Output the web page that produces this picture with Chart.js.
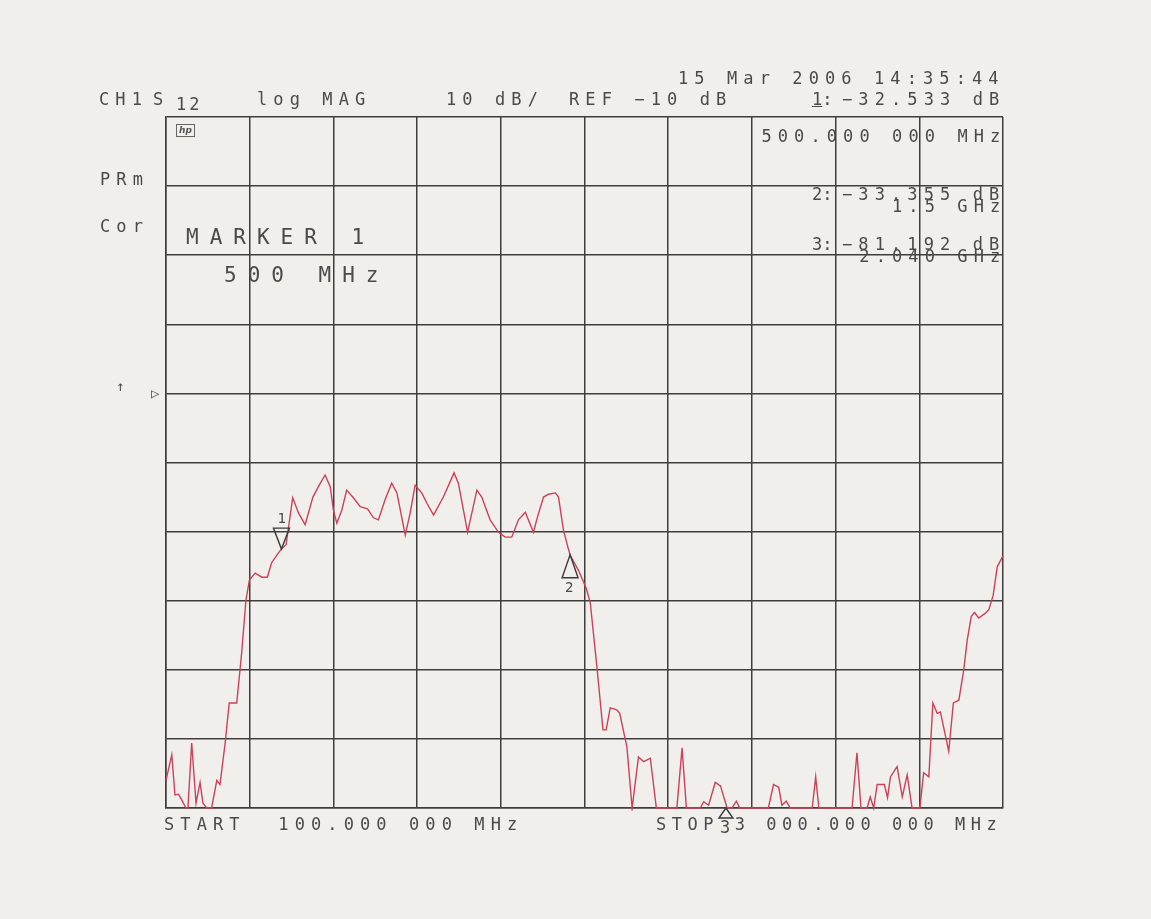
<!DOCTYPE html>
<html>
<head>
<meta charset="utf-8">
<script src="https://cdn.jsdelivr.net/npm/chart.js@4"></script>
<style>
  html, body { margin: 0; padding: 0; background: #f1efec; }
  #wrap { position: relative; width: 1151px; height: 919px; overflow: hidden; }
  canvas { position: absolute; left: 0; top: 0; }
  .t {
    position: absolute;
    font-family: "DejaVu Sans Mono", monospace;
    font-size: 17px;
    line-height: 17px;
    letter-spacing: 6.1px;
    color: #4a4a4a;
    white-space: pre;
  }
  .big { font-size: 21px; line-height: 21px; letter-spacing: 11px; }
  .small { font-size: 14px; line-height: 14px; letter-spacing: 0; }
  .hp {
    position: absolute; left: 176px; top: 124px; width: 17px; height: 11px;
    border: 1px solid #666; font: italic bold 9px "DejaVu Sans", sans-serif;
    line-height: 11px; text-align: center; color: #555;
  }
</style>
</head>
<body>
<div id="wrap">
  <canvas id="chart" width="1151" height="919"></canvas>

  <div class="t" style="left:678px; top:70px;">15 Mar 2006 14:35:44</div>
  <div class="t" style="left:99px; top:91px;">CH1</div>
  <div class="t" style="left:153px; top:91px;">S</div>
  <div class="t" style="left:176px; top:96px; letter-spacing:3px;">12</div>
  <div class="t" style="left:257px; top:91px;">log MAG</div>
  <div class="t" style="left:446px; top:91px;">10 dB/</div>
  <div class="t" style="left:569px; top:91px;">REF −10 dB</div>

  <div class="t" style="left:100px; top:171px;">PRm</div>
  <div class="t" style="left:100px; top:218px;">Cor</div>
  <div class="hp">hp</div>

  <div class="t big" style="left:186px; top:227px;">MARKER 1</div>
  <div class="t big" style="left:224px; top:265px;">500 MHz</div>

  <div class="t small" style="left:116px; top:379px;">↑</div>
  <div class="t small" style="left:151px; top:386px;">▷</div>

  <div class="t" style="left:164px; top:816px;">START  100.000 000 MHz</div>
  <div class="t" style="left:656px; top:816px; letter-spacing:5.5px;">STOP 3 000.000 000 MHz</div>

  <div id="readout"></div>
  <div id="mlabels"></div>
</div>

<script>
// sweep settings
const startMHz = 100;
const stopMHz = 3000;
const topDb = 30;      // REF -10 dB on 4th division, 10 dB/div
const bottomDb = -70;

// S12 trace (MHz, dB); -70 = clipped at bottom of screen
const freqMHz = [100, 120, 131, 143, 154, 169, 176, 189, 204, 218, 228, 241, 258, 276, 287, 305, 319, 345, 362, 377,
  389, 409, 432, 451, 466, 484, 500, 516, 539, 559, 582, 609, 628, 651, 669, 680, 692, 709, 726, 747,
  773, 798, 819, 836, 859, 882, 900, 929, 946, 963, 986, 1004, 1027, 1061, 1098, 1113, 1145, 1177, 1194, 1223,
  1252, 1275, 1298, 1321, 1345, 1373, 1387, 1408, 1425, 1449, 1460, 1477, 1489, 1500, 1529, 1556, 1570, 1593, 1614, 1625,
  1639, 1662, 1672, 1697, 1715, 1737, 1755, 1778, 1799, 1870, 1888, 1903, 1951, 1963, 1980, 2003, 2021, 2044, 2061, 2076,
  2088, 2187, 2205, 2223, 2234, 2249, 2263, 2339, 2351, 2362, 2477, 2494, 2508, 2529, 2540, 2552, 2564, 2589, 2600, 2610,
  2633, 2651, 2668, 2685, 2712, 2725, 2743, 2757, 2772, 2783, 2812, 2828, 2847, 2864, 2876, 2890, 2901, 2916, 2939, 2951,
  2966, 2980, 3000];
const s12Db = [-66, -62.3, -68.1, -68, -68.8, -70, -70, -60.6, -69.3, -66.3, -69.3, -70, -70, -66, -66.6, -60.6, -54.8, -54.8, -47.6, -39.9,
  -37, -36, -36.6, -36.6, -34.5, -33.4, -32.5, -31.9, -25.1, -27.3, -29, -25, -23.5, -21.8, -23.5, -26.9, -28.8, -26.9, -24, -25,
  -26.4, -26.7, -28, -28.3, -25.4, -23, -24.4, -30.5, -27.3, -23.3, -24.4, -25.9, -27.6, -25, -21.5, -23, -30.1, -24, -25, -28.3,
  -30.1, -30.8, -30.8, -28.3, -27.2, -30.1, -27.9, -25, -24.6, -24.4, -25, -29.8, -31.7, -33.4, -35.6, -38.2, -40.3, -49.6, -58.7, -58.7,
  -55.5, -55.8, -56.3, -61.2, -70, -62.6, -63.3, -62.8, -70, -70, -61.3, -70, -70, -69.1, -69.6, -66.3, -66.8, -70, -70, -69,
  -70, -70, -66.6, -67, -69.6, -69, -70, -70, -65.5, -70, -70, -62, -70, -70, -68.4, -70, -66.6, -66.6, -68.5, -65.5,
  -64, -68.4, -65.2, -70, -70, -64.9, -65.5, -54.8, -56.3, -56.1, -61.8, -54.8, -54.4, -50, -45.7, -42.3, -41.7, -42.5, -41.8, -41.3,
  -39.2, -35.1, -33.5];

// markers
const markerIds = ['1', '2', '3'];
const markerMHz = [500, 1500, 2040];
const markerDb = [-32.533, -33.355, -81.192];
const markerFreqText = ['500.000 000 MHz', '1.5 GHz', '2.040 GHz'];

const gridColor = '#3e3e3e';
const xGrid = [];
for (let i = 0; i <= 10; i++) xGrid.push(startMHz + i * (stopMHz - startMHz) / 10);

// marker readout on the right
function buildReadout() {
  const box = document.getElementById('readout');
  const rows = [
    { id: 0, top: 91, ftop: 128 },
    { id: 1, top: 186, ftop: 198 },
    { id: 2, top: 236, ftop: 248 }
  ];
  rows.forEach(r => {
    const num = document.createElement('div');
    num.className = 't';
    num.style.left = '812px';
    num.style.top = r.top + 'px';
    num.style.letterSpacing = '0px';
    num.innerHTML = (r.id === 0 ? '<u>1</u>' : markerIds[r.id]) + ':';
    box.appendChild(num);

    const val = document.createElement('div');
    val.className = 't';
    val.style.left = '842px';
    val.style.top = r.top + 'px';
    val.textContent = '−' + Math.abs(markerDb[r.id]).toFixed(3) + ' dB';
    box.appendChild(val);

    const fq = document.createElement('div');
    fq.className = 't';
    const txt = markerFreqText[r.id];
    fq.style.left = (1000 - ((txt.length - 1) * 16.33 + 10)) + 'px';
    fq.style.top = r.ftop + 'px';
    fq.textContent = txt;
    box.appendChild(fq);
  });
}

// marker triangles, drawn through the chart scales
const markerPlugin = {
  id: 'markers',
  afterDatasetsDraw(chart) {
    const ctx = chart.ctx;
    const xs = chart.scales.x, ys = chart.scales.y;
    const labels = document.getElementById('mlabels');
    labels.innerHTML = '';
    ctx.save();
    ctx.strokeStyle = '#3a3a3a';
    ctx.lineWidth = 1.4;
    markerIds.forEach((id, i) => {
      const px = xs.getPixelForValue(markerMHz[i]);
      const py = ys.getPixelForValue(Math.max(markerDb[i], bottomDb));
      const lab = document.createElement('div');
      lab.className = 't small';
      lab.textContent = id;
      ctx.beginPath();
      if (i === 0) {
        ctx.moveTo(px - 8, py - 21);
        ctx.lineTo(px + 8, py - 21);
        ctx.lineTo(px, py);
        ctx.closePath();
        lab.style.left = (px - 4) + 'px';
        lab.style.top = (py - 38) + 'px';
      } else if (i === 1) {
        ctx.moveTo(px, py);
        ctx.lineTo(px + 8, py + 23);
        ctx.lineTo(px - 8, py + 23);
        ctx.closePath();
        lab.style.left = (px - 5) + 'px';
        lab.style.top = (py + 25) + 'px';
      } else {
        ctx.moveTo(px, py);
        ctx.lineTo(px + 7, py + 10);
        ctx.lineTo(px - 7, py + 10);
        ctx.closePath();
        lab.style.left = (px - 6) + 'px';
        lab.style.top = (py + 12) + 'px';
        lab.style.fontSize = '17px';
      }
      ctx.stroke();
      labels.appendChild(lab);
    });
    ctx.restore();
  }
};

function initChart() {
  const ctx = document.getElementById('chart').getContext('2d');
  new Chart(ctx, {
    type: 'line',
    data: {
      datasets: [{
        label: 'S12',
        data: freqMHz.map((f, i) => ({ x: f, y: s12Db[i] })),
        borderColor: '#cc4157',
        borderWidth: 1.4,
        pointRadius: 0,
        tension: 0,
        fill: false,
        clip: 3
      }]
    },
    options: {
      responsive: false,
      devicePixelRatio: 1,
      animation: false,
      layout: { padding: { left: 166, right: 148, top: 117, bottom: 111 } },
      plugins: { legend: { display: false }, tooltip: { enabled: false } },
      scales: {
        x: {
          type: 'linear',
          min: startMHz,
          max: stopMHz,
          afterBuildTicks: axis => { axis.ticks = xGrid.map(v => ({ value: v })); },
          ticks: { display: false },
          grid: { color: gridColor, lineWidth: 1.5, drawTicks: false },
          border: { display: true, color: gridColor, width: 1.5 }
        },
        y: {
          min: bottomDb,
          max: topDb,
          ticks: { display: false, stepSize: 10 },
          grid: { color: gridColor, lineWidth: 1.5, drawTicks: false },
          border: { display: true, color: gridColor, width: 1.5 }
        }
      }
    },
    plugins: [markerPlugin]
  });
}

document.addEventListener('DOMContentLoaded', () => {
  buildReadout();
  initChart();
});
</script>
</body>
</html>
